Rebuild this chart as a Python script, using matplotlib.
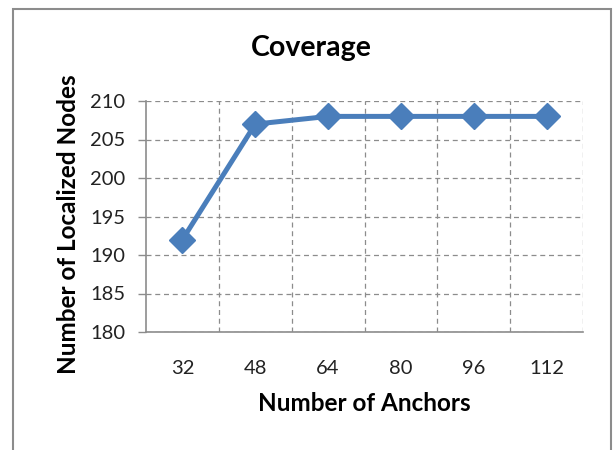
import matplotlib.pyplot as plt
from matplotlib.patches import Rectangle
from matplotlib.ticker import FixedLocator

plt.rcParams['font.family'] = ['Lato', 'DejaVu Sans']

# anchors vs. localized nodes
anchors = ['32', '48', '64', '80', '96', '112']
localized = [192, 207, 208, 208, 208, 208]
y_ticks = [180, 185, 190, 195, 200, 205, 210]

W, H = 615, 450
fig = plt.figure(figsize=(W / 100, H / 100), dpi=100)
ax = fig.add_axes([146 / W, 1 - 332 / H, (583 - 146) / W, (332 - 101) / H])

x = list(range(len(anchors)))
ax.plot(x, localized, color='#4a7ebb', lw=3.6, marker='D', ms=13.5, mew=1,
        markerfacecolor='#4a7ebb', markeredgecolor='#4a7ebb', zorder=3)

ax.set_xlim(-0.5, len(anchors) - 0.5)
ax.set_ylim(180, 210)
ax.set_yticks(y_ticks)
ax.set_xticks(x)
ax.set_xticklabels(anchors)
ax.xaxis.set_minor_locator(FixedLocator([i + 0.5 for i in range(len(anchors))]))

grid_kw = dict(color='#8c8c8c', linestyle=(0, (4, 3)), linewidth=0.9)
ax.grid(True, axis='y', which='major', **grid_kw)
ax.grid(True, axis='x', which='minor', **grid_kw)
ax.set_axisbelow(True)

for side in ['top', 'right']:
    ax.spines[side].set_visible(False)
for side in ['left', 'bottom']:
    ax.spines[side].set_color('#8c8c8c')
    ax.spines[side].set_linewidth(1.2)

ax.tick_params(axis='y', which='major', length=6, width=1, color='#8c8c8c',
               labelsize=14.5, pad=9, labelcolor='#222222')
ax.tick_params(axis='x', which='major', length=0, labelsize=14.5, pad=20,
               labelcolor='#222222')
ax.tick_params(axis='x', which='minor', length=0)

fig.text(311 / W, 1 - 48 / H, 'Coverage', fontsize=20.5, fontweight='bold',
         ha='center', va='center')
ax.set_xlabel('Number of Anchors', fontsize=17.5, fontweight='bold', labelpad=11)
ax.set_ylabel('Number of Localized Nodes', fontsize=17.5, fontweight='bold')
ax.yaxis.set_label_coords(-0.152, 0.465)

# chart frame
fig.patches.append(Rectangle((13 / W, -0.05), (611 - 13) / W, 1 - 9 / H + 0.05,
                             transform=fig.transFigure, fill=False,
                             edgecolor='#8c8c8c', linewidth=1.5))

fig.savefig('out.png', dpi=100)
